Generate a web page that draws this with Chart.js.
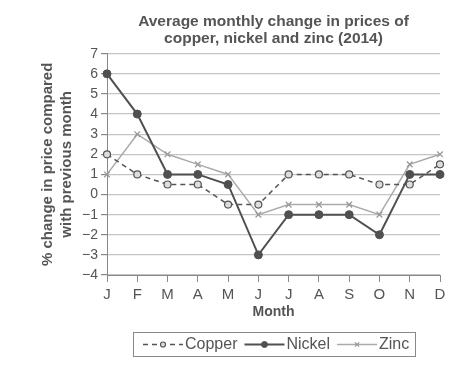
<!DOCTYPE html>
<html>
<head>
  <title>Metal prices 2014</title>
  <script src="https://cdn.jsdelivr.net/npm/chart.js"></script>
  <style>
    body { margin: 0; background: #fff; }
    #wrap { width: 476px; height: 388px; }
  </style>
</head>
<body>
  <div id="wrap"><canvas id="metalChart"></canvas></div>

  <script>
    const months = ["J", "F", "M", "A", "M", "J", "J", "A", "S", "O", "N", "D"];
    const copper = [2, 1, 0.5, 0.5, -0.5, -0.5, 1, 1, 1, 0.5, 0.5, 1.5];
    const nickel = [6, 4, 1, 1, 0.5, -3, -1, -1, -1, -2, 1, 1];
    const zinc = [1, 3, 2, 1.5, 1, -1, -0.5, -0.5, -0.5, -1, 1.5, 2];
    const yTicks = [-4, -3, -2, -1, 0, 1, 2, 3, 4, 5, 6, 7];

    const FONT = "'Liberation Sans', Arial, sans-serif";
    const TXT = "#555";

    // legend with a frame and line+marker samples, built from the datasets
    const boxLegend = {
      id: "boxLegend",
      afterDraw(chart) {
        const c = chart.ctx;
        const area = chart.chartArea;
        const top = area.bottom + 57, h = 24;
        const left = 133, right = 415;
        c.save();
        c.strokeStyle = "#888";
        c.lineWidth = 1;
        c.strokeRect(left + 0.5, top + 0.5, right - left, h);
        c.font = "16px " + FONT;
        c.textBaseline = "middle";
        let x = left + 10;
        const cy = top + h / 2 + 0.5;
        chart.data.datasets.forEach(ds => {
          const len = 40;
          c.strokeStyle = ds.borderColor;
          c.lineWidth = ds.borderWidth;
          c.setLineDash(ds.borderDash || []);
          c.beginPath();
          c.moveTo(x, cy);
          c.lineTo(x + len, cy);
          c.stroke();
          c.setLineDash([]);
          c.fillStyle = ds.pointBackgroundColor;
          c.strokeStyle = ds.pointBorderColor;
          c.lineWidth = ds.pointBorderWidth;
          Chart.helpers.drawPoint(c, { pointStyle: ds.pointStyle, radius: ds.pointRadius - 1, rotation: 0, borderWidth: ds.pointBorderWidth }, x + len / 2, cy);
          x += len + 2;
          c.fillStyle = TXT;
          c.fillText(ds.label, x, cy);
          x += c.measureText(ds.label).width + 7;
        });
        c.restore();
      }
    };

    new Chart(document.getElementById("metalChart"), {
      type: "line",
      data: {
        labels: months,
        datasets: [
          {
            label: "Copper",
            data: copper,
            borderColor: "#555",
            borderWidth: 1.5,
            borderDash: [5, 4],
            pointStyle: "circle",
            pointRadius: 3.5,
            pointBackgroundColor: "#ddd",
            pointBorderColor: "#555",
            pointBorderWidth: 1.2,
            tension: 0
          },
          {
            label: "Nickel",
            data: nickel,
            borderColor: "#505050",
            borderWidth: 2,
            pointStyle: "circle",
            pointRadius: 4,
            pointBackgroundColor: "#505050",
            pointBorderColor: "#505050",
            pointBorderWidth: 1,
            tension: 0
          },
          {
            label: "Zinc",
            data: zinc,
            borderColor: "#aaa",
            borderWidth: 1.5,
            pointStyle: "crossRot",
            pointRadius: 4,
            pointBackgroundColor: "#999",
            pointBorderColor: "#999",
            pointBorderWidth: 1.3,
            tension: 0
          }
        ]
      },
      options: {
        responsive: true,
        maintainAspectRatio: false,
        animation: false,
        layout: { padding: { left: 0, right: 36, top: 0, bottom: 63 } },
        plugins: {
          legend: { display: false },
          tooltip: { enabled: false },
          title: {
            display: true,
            fullSize: false,
            text: ["Average monthly change in prices of", "copper, nickel and zinc (2014)"],
            color: TXT,
            font: { family: FONT, size: 15.5, weight: "bold", lineHeight: 1.12 },
            padding: { top: 13, bottom: 6 }
          }
        },
        scales: {
          x: {
            offset: false,
            afterFit(scale) { scale.height = 50; },
            grid: { drawOnChartArea: false, drawTicks: true, tickLength: 7, tickColor: "#888" },
            border: { color: "#888", width: 1 },
            ticks: { color: TXT, padding: 4, font: { family: FONT, size: 15 } },
            title: {
              display: true,
              text: "Month",
              color: TXT,
              font: { family: FONT, size: 14, weight: "bold" },
              padding: { top: 0, bottom: 4 }
            }
          },
          y: {
            min: -4,
            max: 7,
            afterFit(scale) { scale.width = 107; },
            afterBuildTicks(scale) { scale.ticks = yTicks.map(v => ({ value: v })); },
            grid: { color: "#c4c4c4", lineWidth: 1.2, tickLength: 6, tickColor: "#888" },
            border: { color: "#888", width: 1 },
            ticks: {
              color: TXT,
              padding: 3,
              font: { family: FONT, size: 14 },
              callback: v => (v < 0 ? "\u2212" + Math.abs(v) : String(v))
            },
            title: {
              display: true,
              text: ["% change in price compared", "with previous month"],
              color: TXT,
              font: { family: FONT, size: 15, weight: "bold", lineHeight: 1.3 },
              padding: { top: 38, bottom: 0 }
            }
          }
        }
      },
      plugins: [boxLegend]
    });
  </script>
</body>
</html>
